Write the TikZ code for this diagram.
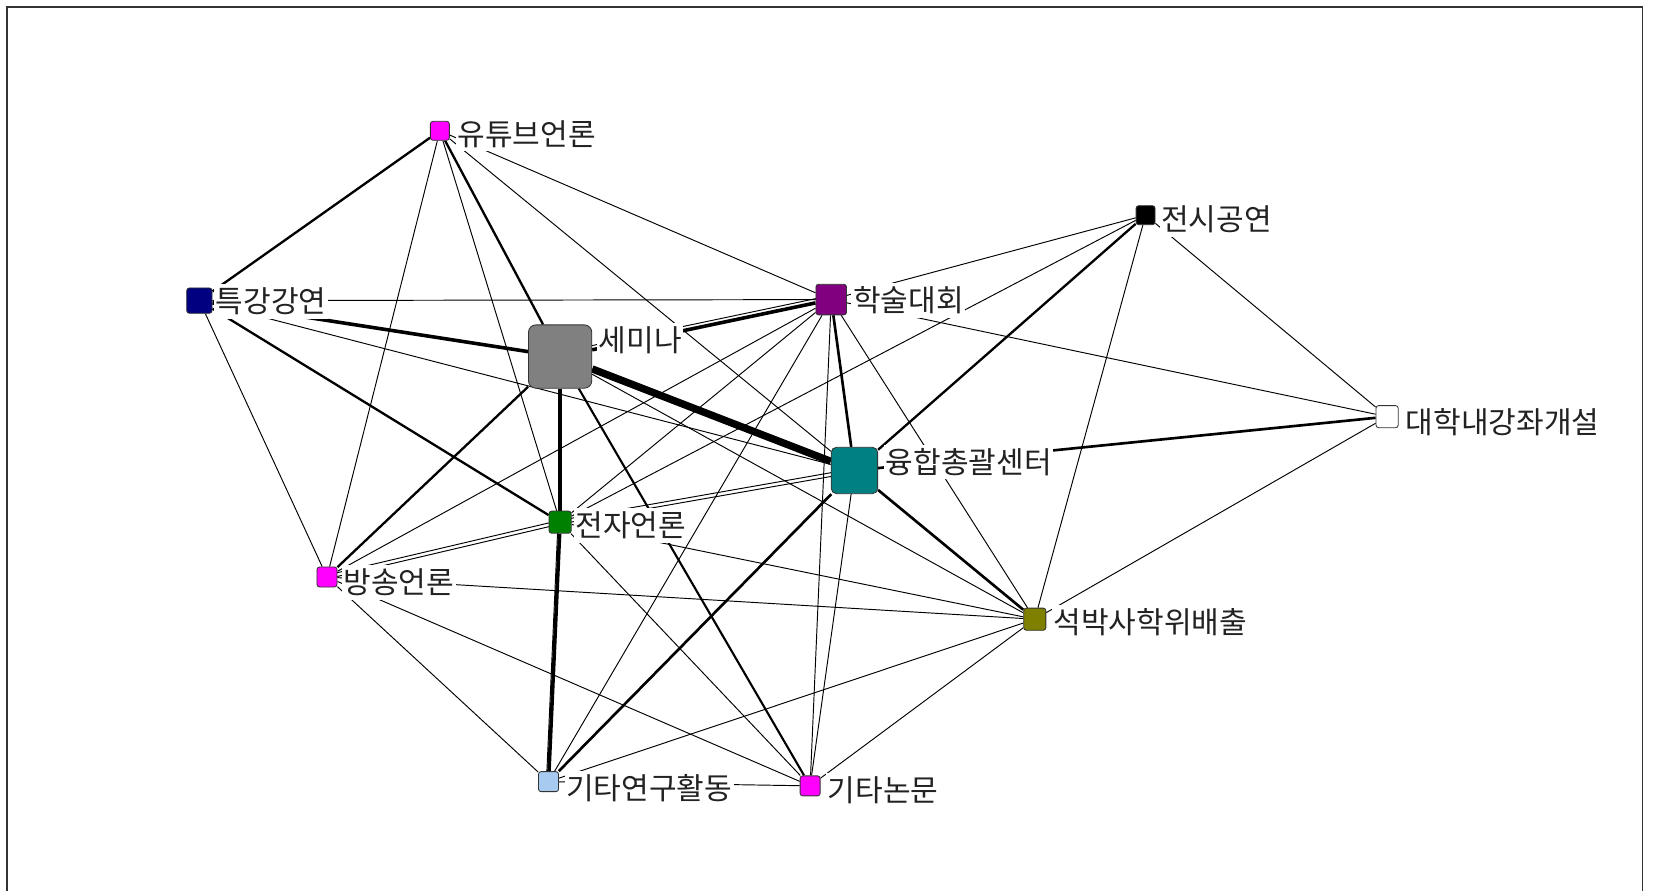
\documentclass[tikz,border=0pt]{standalone}
\usepackage{fontspec}
\newfontfamily\kr{Noto Sans CJK KR}
\usetikzlibrary{backgrounds}
\definecolor{cMag}{HTML}{FF00FF}
\definecolor{cNavy}{HTML}{000080}
\definecolor{cGray}{HTML}{808080}
\definecolor{cPurple}{HTML}{800080}
\definecolor{cTeal}{HTML}{008080}
\definecolor{cGreen}{HTML}{008000}
\definecolor{cOlive}{HTML}{808000}
\definecolor{cSky}{HTML}{A6CAF0}
\definecolor{cText}{HTML}{222222}
\begin{document}
\begin{tikzpicture}[x=1pt,y=-1pt,
  nd/.style={draw=black!80, line width=0.8pt, rounded corners=2.5pt, minimum size=#1, inner sep=0pt},
  big/.style={rounded corners=7pt},
  lbl/.style={anchor=west, fill=white, inner xsep=1.5pt, inner ysep=3.5pt, font=\kr\fontsize{28.5}{28.5}\selectfont, text=cText},
  ethin/.style={line width=0.9pt},
  emid/.style={line width=2.2pt},
  ethick/.style={line width=3.4pt},
  ehuge/.style={line width=7pt}]
\useasboundingbox (0,0) rectangle (1568,845);
\draw[line width=1.5pt, black!80] (6.5,845) -- (6.5,6.5) -- (1557,6.5) -- (1557,845);

% nodes
\node[nd=18pt, fill=cMag] (Y) at (417,124) {};
\node[nd=24pt, fill=cNavy] (T) at (189,285) {};
\node[nd=60pt, big, fill=cGray] (S) at (531,338) {};
\node[nd=29pt, fill=cPurple] (H) at (788,284) {};
\node[nd=18pt, fill=black] (J) at (1086,204) {};
\node[nd=21pt, fill=white] (D) at (1315,395) {};
\node[nd=44pt, big, rounded corners=5pt, fill=cTeal] (C) at (810,446) {};
\node[nd=21pt, fill=cGreen] (E) at (531,495) {};
\node[nd=19pt, fill=cMag] (B) at (310,547) {};
\node[nd=21pt, fill=cOlive] (M) at (981,587) {};
\node[nd=19pt, fill=cSky] (R) at (520,741) {};
\node[nd=19pt, fill=cMag] (N) at (768,745) {};

% labels
\node[lbl] (Yl) at (432,127) {유튜브언론};
\node[lbl] (Tl) at (203,286) {특강강연};
\node[lbl] (Sl) at (566,323) {세미나};
\node[lbl] (Hl) at (807,285) {학술대회};
\node[lbl] (Jl) at (1099,208) {전시공연};
\node[lbl] (Dl) at (1331,400) {대학내강좌개설};
\node[lbl] (Cl) at (838,438) {융합총괄센터};
\node[lbl] (El) at (544,498) {전자언론};
\node[lbl] (Bl) at (324,552) {방송언론};
\node[lbl] (Ml) at (997,590) {석박사학위배출};
\node[lbl] (Rl) at (535,747) {기타연구활동};
\node[lbl] (Nl) at (783,749) {기타논문};

% edges
\begin{scope}[on background layer]
% 유튜브언론
\draw[emid] (Y) -- (T);
\draw[emid] (Y) -- (S);
\draw[ethin] (Y) -- (B);
\draw[ethin] (Y) -- (E);
\draw[ethin] (Y) -- (C);
\draw[ethin] (Y) -- (H);
% 특강강연
\draw[ethin] (T) -- (H);
\draw[ethick] (T) -- (S);
\draw[emid] (T) -- (E);
\draw[ethin] (T) -- (C);
\draw[ethin] (T) -- (B);
% 세미나
\draw[ethick] (S) -- (H);
\draw[ethin] ([yshift=4pt]S.center) -- ([yshift=4pt]H.center);
\draw[ehuge] (S) -- (C);
\draw[ethick] (S) -- (E);
\draw[emid] (S) -- (B);
\draw[line width=2pt] (S) -- (N);
\draw[ethin] (S) -- (M);
% 학술대회
\draw[ethin] (H) -- (J);
\draw[ethin] (H) -- (D);
\draw[line width=2.5pt] (H) -- (C);
\draw[ethin] (H) -- (M);
\draw[ethin] (H) -- (N);
\draw[ethin] (H) -- (R);
\draw[ethin] (H) -- (E);
\draw[ethin] (H) -- (B);
% 전시공연
\draw[emid] (J) -- (C);
\draw[ethin] (J) -- (M);
\draw[ethin] (J) -- (D);
\draw[ethin] (J) -- (E);
% 대학내강좌개설
\draw[line width=2.5pt] (D) -- (C);
\draw[ethin] (D) -- (M);
% 융합총괄센터
\draw[ethin] ([yshift=1.8pt]C.center) -- ([yshift=1.8pt]E.center);
\draw[ethin] ([yshift=-1.8pt]C.center) -- ([yshift=-1.8pt]E.center);
\draw[line width=2.5pt] (C) -- (M);
\draw[line width=2.5pt] (C) -- (R);
\draw[ethin] (C) -- (N);
% 전자언론
\draw[ethin] ([yshift=1.8pt]E.center) -- ([yshift=1.8pt]B.center);
\draw[ethin] ([yshift=-1.8pt]E.center) -- ([yshift=-1.8pt]B.center);
\draw[ethick] (E) -- (R);
\draw[ethin] ([xshift=-2pt]E.center) -- ([xshift=-2pt]R.center);
\draw[ethin] (E) -- (M);
\draw[ethin] (E) -- (N);
% 방송언론
\draw[ethin] (B) -- (M);
\draw[ethin] (B) -- (R);
\draw[ethin] (B) -- (N);
% 기타
\draw[ethin] (R) -- (M);
\draw[ethin] (R) -- (N);
\draw[ethin] (N) -- (M);
\end{scope}
\end{tikzpicture}
\end{document}
